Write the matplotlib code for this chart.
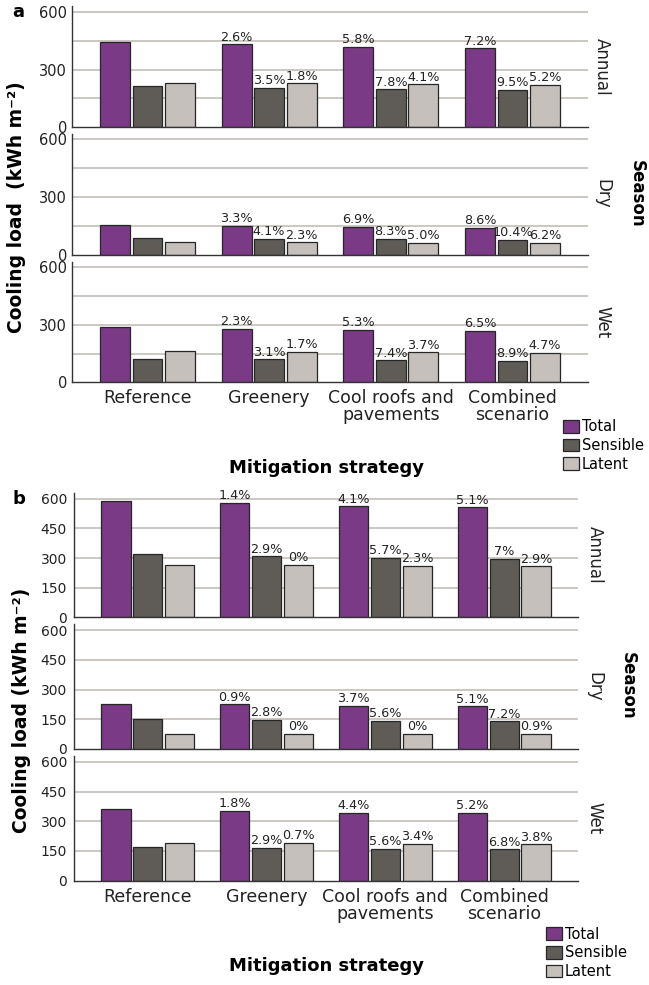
import matplotlib
matplotlib.use("Agg")
import matplotlib.pyplot as plt
from matplotlib.patches import Patch
import numpy as np

plt.rcParams['font.family'] = ['DejaVu Sans']

categories = ["Reference", "Greenery", "Cool roofs and\npavements", "Combined\nscenario"]
seasons = ["Annual", "Dry", "Wet"]
series = ["Total", "Sensible", "Latent"]
colors = ["#7a3a86", "#5f5c58", "#c5c0bb"]

# Panel a values (kWh m-2)
a_annual_total = [443, 431, 417, 411]
a_annual_sensible = [214, 206, 197, 194]
a_annual_latent = [233, 229, 223, 221]
a_dry_total = [154, 149, 143, 141]
a_dry_sensible = [88, 84, 81, 79]
a_dry_latent = [66, 64.5, 63, 62]
a_wet_total = [287, 280, 272, 268]
a_wet_sensible = [123, 119, 114, 112]
a_wet_latent = [163, 160, 157, 155]

a_annual_pct_total = ["", "2.6%", "5.8%", "7.2%"]
a_annual_pct_sensible = ["", "3.5%", "7.8%", "9.5%"]
a_annual_pct_latent = ["", "1.8%", "4.1%", "5.2%"]
a_dry_pct_total = ["", "3.3%", "6.9%", "8.6%"]
a_dry_pct_sensible = ["", "4.1%", "8.3%", "10.4%"]
a_dry_pct_latent = ["", "2.3%", "5.0%", "6.2%"]
a_wet_pct_total = ["", "2.3%", "5.3%", "6.5%"]
a_wet_pct_sensible = ["", "3.1%", "7.4%", "8.9%"]
a_wet_pct_latent = ["", "1.7%", "3.7%", "4.7%"]

# Panel b values (kWh m-2)
b_annual_total = [586, 578, 562, 556]
b_annual_sensible = [318, 309, 300, 296]
b_annual_latent = [266, 266, 260, 258]
b_dry_total = [227, 225, 219, 216]
b_dry_sensible = [150, 146, 142, 139]
b_dry_latent = [77, 77, 77, 76]
b_wet_total = [360, 353, 344, 341]
b_wet_sensible = [170, 165, 160, 158]
b_wet_latent = [191, 190, 185, 184]

b_annual_pct_total = ["", "1.4%", "4.1%", "5.1%"]
b_annual_pct_sensible = ["", "2.9%", "5.7%", "7%"]
b_annual_pct_latent = ["", "0%", "2.3%", "2.9%"]
b_dry_pct_total = ["", "0.9%", "3.7%", "5.1%"]
b_dry_pct_sensible = ["", "2.8%", "5.6%", "7.2%"]
b_dry_pct_latent = ["", "0%", "0%", "0.9%"]
b_wet_pct_total = ["", "1.8%", "4.4%", "5.2%"]
b_wet_pct_sensible = ["", "2.9%", "5.6%", "6.8%"]
b_wet_pct_latent = ["", "0.7%", "3.4%", "3.8%"]

a_yticks = [0, 300, 600]
b_yticks = [0, 150, 300, 450, 600]
grid_levels = [150, 300, 450, 600]

W, H = 649, 985
fig = plt.figure(figsize=(W / 100, H / 100), dpi=100)


def add_ax(x0, x1, ytop, ybot):
    return fig.add_axes([x0 / W, 1 - ybot / H, (x1 - x0) / W, (ybot - ytop) / H])


def draw_facet(ax, vals, pcts, yticks, tick_fs, tick_pad, show_x, season, lab_x):
    x = np.arange(len(categories))
    step, width = 0.267, 0.245
    ax.set_xlim(-0.62, 3.62)
    ax.set_ylim(0, 630)
    for lv in grid_levels:
        ax.axhline(lv, color="#bdb8b3", lw=1.1, zorder=0)
    for i, (v, p) in enumerate(zip(vals, pcts)):
        xs = x + (i - 1) * step
        ax.bar(xs, v, width, color=colors[i], edgecolor="#262626", linewidth=0.9, zorder=2)
        for xx, vv, pp in zip(xs, v, p):
            if pp:
                ax.annotate(pp, (xx, vv), xytext=(0, 0.5), textcoords="offset points",
                            ha="center", va="bottom", fontsize=9.2, color="#222222", zorder=3)
    for s in ["top", "right"]:
        ax.spines[s].set_visible(False)
    ax.spines["left"].set_color("#333333")
    ax.spines["bottom"].set_color("#333333")
    ax.spines["left"].set_linewidth(1.0)
    ax.spines["bottom"].set_linewidth(1.0)
    ax.set_yticks(yticks)
    ax.tick_params(axis="y", length=0, labelsize=tick_fs, pad=tick_pad, colors="#222222")
    ax.set_xticks(x)
    if show_x:
        ax.set_xticklabels(categories, fontsize=12.5, linespacing=0.92, color="#222222")
        ax.tick_params(axis="x", length=0, pad=5)
    else:
        ax.set_xticklabels([])
        ax.tick_params(axis="x", length=0)
    pos = ax.get_position()
    yc = (1 - (pos.y0 + pos.height / 2)) * H
    fig.text(lab_x / W, 1 - yc / H, season, rotation=-90, ha="center", va="center",
             fontsize=12, color="#222222")


# Panel a
a_vals = [
    [a_annual_total, a_annual_sensible, a_annual_latent],
    [a_dry_total, a_dry_sensible, a_dry_latent],
    [a_wet_total, a_wet_sensible, a_wet_latent],
]
a_pcts = [
    [a_annual_pct_total, a_annual_pct_sensible, a_annual_pct_latent],
    [a_dry_pct_total, a_dry_pct_sensible, a_dry_pct_latent],
    [a_wet_pct_total, a_wet_pct_sensible, a_wet_pct_latent],
]
a_rows = [(6.2, 127.3), (133.5, 254.7), (261.5, 382.3)]
for k, (yt, yb) in enumerate(a_rows):
    ax = add_ax(72, 588, yt, yb)
    draw_facet(ax, a_vals[k], a_pcts[k], a_yticks, 10.5, 3.6, k == 2, seasons[k], 602)

# Panel b
b_vals = [
    [b_annual_total, b_annual_sensible, b_annual_latent],
    [b_dry_total, b_dry_sensible, b_dry_latent],
    [b_wet_total, b_wet_sensible, b_wet_latent],
]
b_pcts = [
    [b_annual_pct_total, b_annual_pct_sensible, b_annual_pct_latent],
    [b_dry_pct_total, b_dry_pct_sensible, b_dry_pct_latent],
    [b_wet_pct_total, b_wet_pct_sensible, b_wet_pct_latent],
]
b_rows = [(492.8, 617.3), (624.3, 749.0), (755.9, 880.7)]
for k, (yt, yb) in enumerate(b_rows):
    ax = add_ax(74, 578, yt, yb)
    draw_facet(ax, b_vals[k], b_pcts[k], b_yticks, 10, 5, k == 2, seasons[k], 594.5)

# Panel letters
fig.text(12 / W, 1 - 12 / H, "a", fontsize=13, fontweight="bold", ha="left", va="center")
fig.text(13 / W, 1 - 499 / H, "b", fontsize=13, fontweight="bold", ha="left", va="center")

# Y labels
fig.text(16.5 / W, 1 - 207.5 / H, "Cooling load  (kWh m⁻²)", rotation=90, fontsize=13.5,
         fontweight="bold", ha="center", va="center")
fig.text(21.5 / W, 1 - 710 / H, "Cooling load (kWh m⁻²)", rotation=90, fontsize=13.5,
         fontweight="bold", ha="center", va="center")

# Season labels
fig.text(636.5 / W, 1 - 193.5 / H, "Season", rotation=-90, fontsize=12, fontweight="bold",
         ha="center", va="center")
fig.text(627.5 / W, 1 - 686 / H, "Season", rotation=-90, fontsize=12, fontweight="bold",
         ha="center", va="center")

# X labels
fig.text(326 / W, 1 - 468 / H, "Mitigation strategy", fontsize=13, fontweight="bold",
         ha="center", va="center")
fig.text(326 / W, 1 - 966 / H, "Mitigation strategy", fontsize=13, fontweight="bold",
         ha="center", va="center")

# Legends
handles = [Patch(facecolor=c, edgecolor="#262626", linewidth=0.9, label=s)
           for c, s in zip(colors, series)]
for (lx, ly) in [(562.7, 419.3), (546, 926.7)]:
    fig.legend(handles=handles, loc="upper left", bbox_to_anchor=(lx / W, 1 - ly / H),
               frameon=False, fontsize=10.5, handlelength=1.1, handleheight=0.96,
               handletextpad=0.2, labelspacing=0.25, borderpad=0, borderaxespad=0)

fig.savefig("out.png", dpi=100)
